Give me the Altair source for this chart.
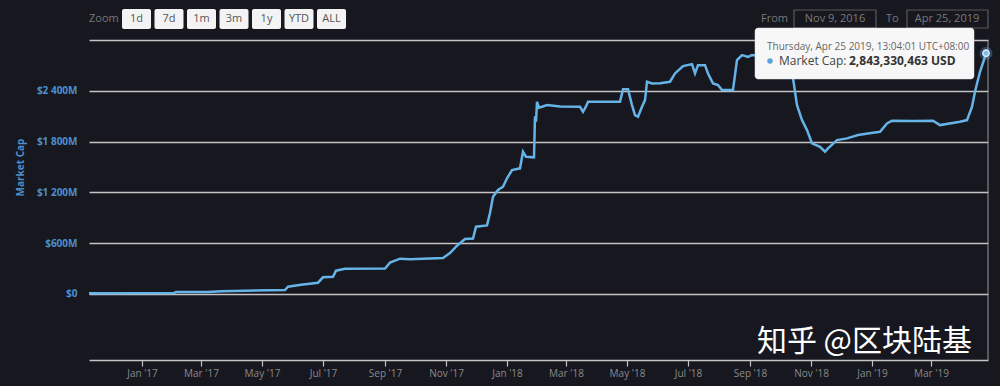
import altair as alt
import pandas as pd

# ---- data (market cap in millions USD) ----
dates = [
    "2016-11-09", "2017-02-02", "2017-02-04", "2017-03-08", "2017-03-21",
    "2017-05-24", "2017-05-27", "2017-06-09", "2017-06-26", "2017-07-01",
    "2017-07-11", "2017-07-14", "2017-07-23", "2017-09-01", "2017-09-06",
    "2017-09-16", "2017-09-26", "2017-10-29", "2017-11-05", "2017-11-12",
    "2017-11-20", "2017-11-28", "2017-12-01", "2017-12-12", "2017-12-15",
    "2017-12-18", "2017-12-23", "2017-12-28", "2018-01-01", "2018-01-06",
    "2018-01-14", "2018-01-17", "2018-01-20", "2018-01-28", "2018-01-29",
    "2018-01-30", "2018-01-31", "2018-02-02", "2018-02-05", "2018-02-10",
    "2018-02-23", "2018-03-15", "2018-03-18", "2018-03-21", "2018-03-23",
    "2018-04-24", "2018-04-27", "2018-05-02", "2018-05-06", "2018-05-09",
    "2018-05-12", "2018-05-16", "2018-05-19", "2018-05-21", "2018-05-26",
    "2018-06-03", "2018-06-13", "2018-06-18", "2018-06-26", "2018-07-05",
    "2018-07-08", "2018-07-11", "2018-07-18", "2018-07-21", "2018-07-26",
    "2018-07-31", "2018-08-04", "2018-08-15", "2018-08-19", "2018-08-24",
    "2018-08-30", "2018-09-03", "2018-09-08", "2018-09-21", "2018-10-06",
    "2018-10-11", "2018-10-14", "2018-10-18", "2018-10-23", "2018-10-28",
    "2018-11-02", "2018-11-10", "2018-11-15", "2018-11-18", "2018-11-27",
    "2018-12-07", "2018-12-18", "2019-01-02", "2019-01-09", "2019-01-16",
    "2019-01-21", "2019-02-11", "2019-03-03", "2019-03-10", "2019-03-30",
    "2019-04-06", "2019-04-11", "2019-04-14", "2019-04-19", "2019-04-24",
    "2019-04-25",
]
caps = [
    8, 10, 22, 24, 32,
    47, 86, 110, 133, 197,
    204, 275, 299, 300, 370,
    417, 410, 425, 484, 570,
    650, 655, 795, 810, 956,
    1149, 1228, 1267, 1366, 1464,
    1484, 1680, 1621, 1614, 2100,
    2034, 2270, 2200, 2211, 2231,
    2215, 2211, 2152, 2215, 2270,
    2270, 2417, 2417, 2231, 2113,
    2093, 2211, 2290, 2507, 2487,
    2490, 2507, 2605, 2692, 2715,
    2605, 2703, 2703, 2605, 2487,
    2468, 2408, 2408, 2763, 2822,
    2800, 2822, 2815, 2800, 2790,
    2700, 2550, 2231, 2054, 1936,
    1779, 1739, 1680, 1720, 1818,
    1838, 1877, 1905, 1916, 2015,
    2046, 2042, 2046, 1995, 2034,
    2054, 2211, 2388, 2625, 2802,
    2843.330463,
]
y_ticks = [0, 600, 1200, 1800, 2400, 3000]
x_tick_months = [(2017, 1), (2017, 3), (2017, 5), (2017, 7), (2017, 9), (2017, 11),
                 (2018, 1), (2018, 3), (2018, 5), (2018, 7), (2018, 9), (2018, 11),
                 (2019, 1), (2019, 3)]
zoom_buttons = ["1d", "7d", "1m", "3m", "1y", "YTD", "ALL"]
range_from = "Nov 9, 2016"
range_to = "Apr 25, 2019"
tooltip_head = "Thursday, Apr 25 2019, 13:04:01 UTC+08:00"
tooltip_value = "2,843,330,463 USD"
watermark = "知乎 @区块陆基"

df = pd.DataFrame({"date": dates, "cap": caps})
last = df.tail(1)
one = pd.DataFrame({"k": [0]})

W, H = 899, 320
BG = "#17171f"
LINE = "#66b3e8"
GRID = "#c4c4c4"
FONT = "Open Sans"

xscale = alt.Scale(
    type="utc",
    domain=[alt.DateTime(year=2016, month=11, date=9, utc=True),
            alt.DateTime(year=2019, month=4, date=27, utc=True)],
    nice=False,
)
yscale = alt.Scale(domain=[-780, 3000], nice=False, zero=False)

xaxis = alt.Axis(
    values=[alt.DateTime(year=y, month=m, date=1, utc=True) for y, m in x_tick_months],
    format="%b '%y", grid=False, title=None,
    domainColor=GRID, domainWidth=1.5, tickColor=GRID, tickSize=6, tickWidth=1.2,
    labelColor="#8a8a8a", labelFontSize=10, labelPadding=2, labelFont=FONT,
    labelFlush=False, labelOverlap=False,
)
yaxis = alt.Axis(
    values=y_ticks,
    labelExpr="datum.value >= 3000 ? '' : (datum.value == 0 ? '$0' : '$' + replace(format(datum.value, ','), ',', ' ') + 'M')",
    grid=True, gridColor=GRID, gridWidth=1.4, domain=False, ticks=False,
    labelColor="#4d8fcc", labelFontSize=10, labelFontWeight="bold", labelPadding=12,
    labelFont=FONT,
    title="Market Cap", titleColor="#4d8fcc", titleFontSize=10, titleFontWeight="bold",
    titleFont=FONT, titleX=-66, titleY=127, titleAngle=-90, titleBaseline="alphabetic",
    titleAlign="center",
)

line = alt.Chart(df).mark_line(color=LINE, strokeWidth=2.5, interpolate="linear").encode(
    x=alt.X("date:T", scale=xscale, axis=xaxis),
    y=alt.Y("cap:Q", scale=yscale, axis=yaxis),
)
halo = alt.Chart(last).mark_circle(size=170, color=LINE, opacity=0.3).encode(
    x=alt.X("date:T", scale=xscale), y=alt.Y("cap:Q", scale=yscale))
marker = alt.Chart(last).mark_circle(size=40, color="#7cbdea", stroke="#dcecf8",
                                     strokeWidth=1.5, opacity=1).encode(
    x=alt.X("date:T", scale=xscale), y=alt.Y("cap:Q", scale=yscale))


def txt(s, x, y, **kw):
    return alt.Chart(one).mark_text(text=s, font=FONT, **kw).encode(
        x=alt.value(x), y=alt.value(y))


def box(x0, x1, y0, y1, **kw):
    return alt.Chart(one).mark_rect(**kw).encode(
        x=alt.value(x0), x2=alt.value(x1), y=alt.value(y0), y2=alt.value(y1))


layers = [line]

# right border
layers.append(alt.Chart(one).mark_rule(color="#9a9a9a", strokeWidth=1).encode(
    x=alt.value(W), y=alt.value(0), y2=alt.value(H)))

# zoom buttons
layers.append(txt("Zoom", 0, -21, align="left", baseline="middle", fontSize=11, color="#777777"))
for i, b in enumerate(zoom_buttons):
    x0 = 33 + i * 32.5
    layers.append(box(x0, x0 + 29, -31, -11, fill="#f3f3f3", cornerRadius=2))
    layers.append(txt(b, x0 + 14.5, -21, align="center", baseline="middle",
                      fontSize=11, color="#555555"))

# date range inputs
layers.append(txt("From", 672, -21, align="left", baseline="middle", fontSize=11, color="#777777"))
layers.append(box(705, 787, -30, -12, fillOpacity=0, stroke="#5a5a5a", strokeWidth=1.2))
layers.append(txt(range_from, 746, -21, align="center", baseline="middle", fontSize=11, color="#7a7a7a"))
layers.append(txt("To", 797, -21, align="left", baseline="middle", fontSize=11, color="#777777"))
layers.append(box(818, 899, -30, -12, fillOpacity=0, stroke="#5a5a5a", strokeWidth=1.2))
layers.append(txt(range_to, 858, -21, align="center", baseline="middle", fontSize=11, color="#7a7a7a"))

# tooltip
layers.append(box(666, 885, -12, 39, fill="#f7f7f7", cornerRadius=3, stroke="#e0e0e0", strokeWidth=0.5))
layers.append(txt(tooltip_head, 678, 7, align="left", baseline="middle", fontSize=10, color="#666666"))
layers.append(alt.Chart(one).mark_circle(size=30, color="#5ba3dd", opacity=1).encode(
    x=alt.value(681), y=alt.value(21)))
layers.append(txt("Market Cap: ", 690, 21, align="left", baseline="middle", fontSize=12, color="#444444"))
layers.append(txt(tooltip_value, 760, 21, align="left", baseline="middle", fontSize=12,
                  fontWeight="bold", color="#333333"))

layers += [halo, marker]

# watermark
layers.append(alt.Chart(one).mark_text(text=watermark, font="Noto Sans CJK SC", fontSize=30,
                                       color="#ffffff", align="right", baseline="middle").encode(
    x=alt.value(883), y=alt.value(302)))

chart = alt.layer(*layers).properties(
    width=W, height=H,
    autosize=alt.AutoSizeParams(type="none"),
    padding={"left": 89, "top": 40, "right": 12, "bottom": 26},
    background=BG,
).configure_view(stroke=None)

chart.save("out.html", embed_options={"renderer": "svg", "actions": False})
